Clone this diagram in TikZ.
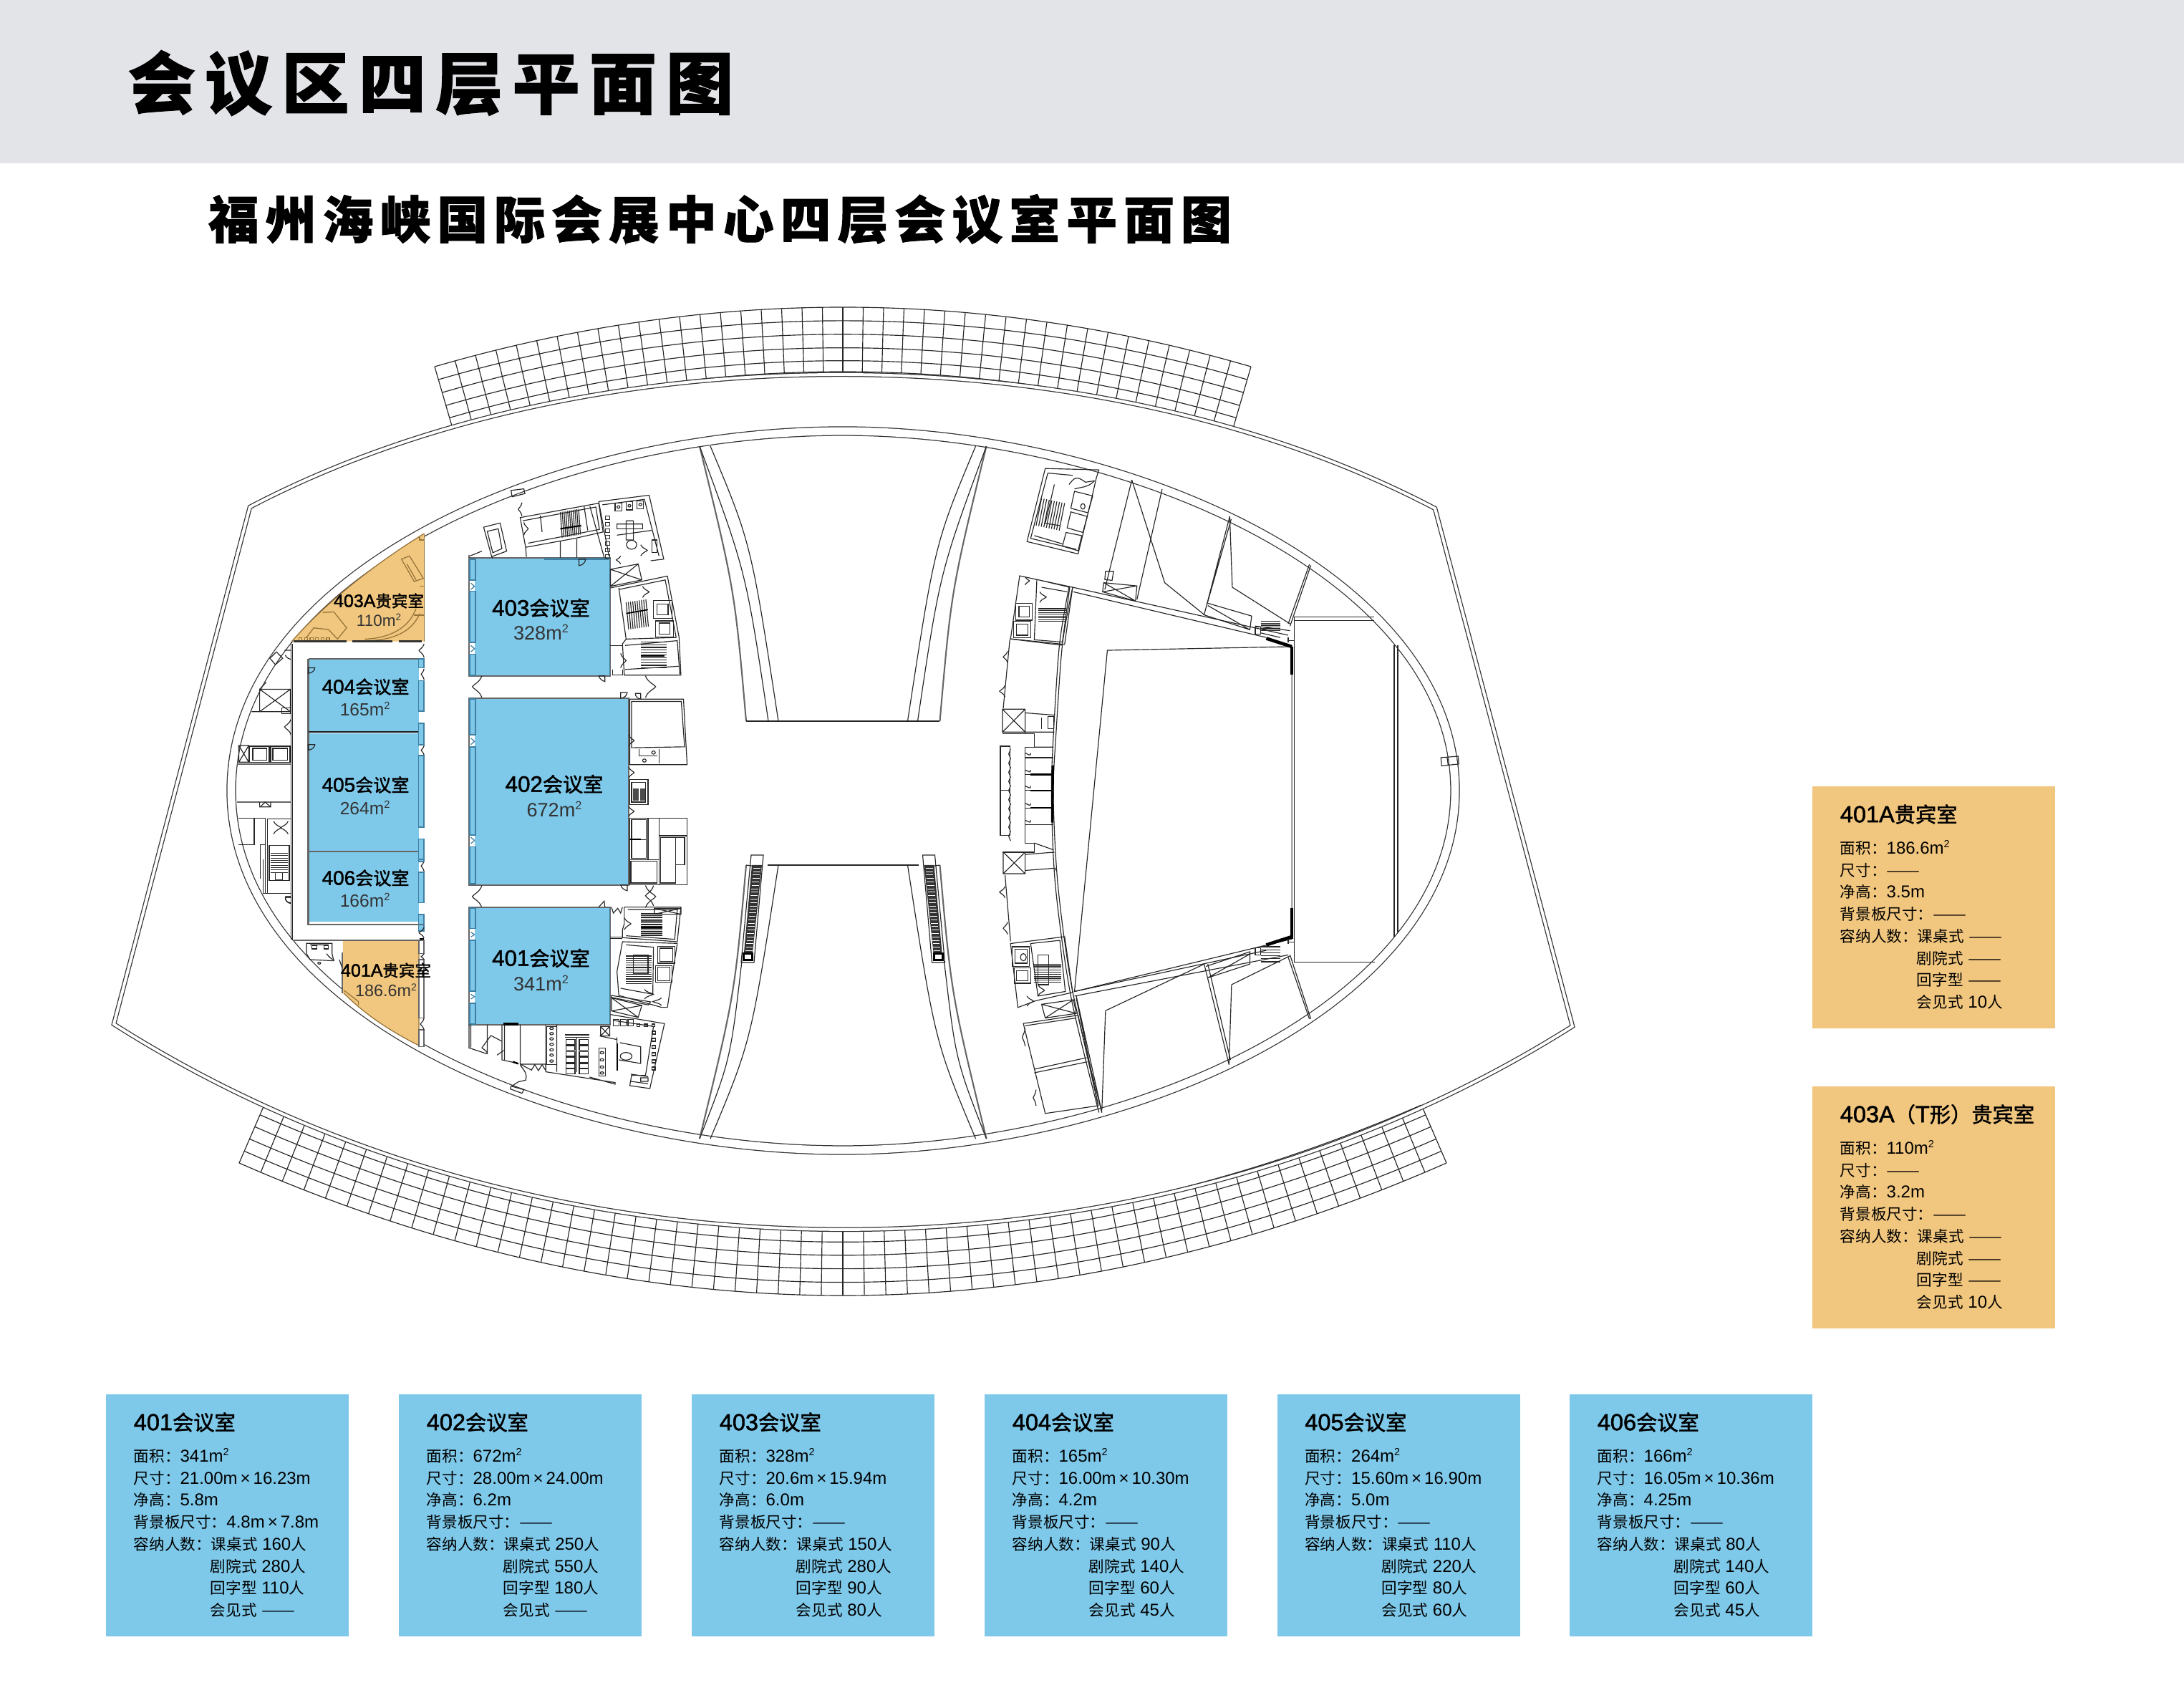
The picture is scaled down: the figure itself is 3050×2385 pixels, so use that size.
\documentclass[tikz,border=0pt]{standalone}
\usepackage{fontspec}
\setmainfont{Liberation Sans}
\newfontfamily\cj[Scale=0.9]{Noto Sans CJK SC}
\newfontfamily\cjm[Scale=0.9,FakeBold=1.6]{Noto Sans CJK SC}
\newfontfamily\lnm[FakeBold=1.6]{Liberation Sans}
\newfontfamily\cjt[LetterSpace=14,FakeBold=1.2]{Noto Sans CJK SC}
\newfontfamily\cjs[LetterSpace=12.8,FakeBold=1.2]{Noto Sans CJK SC}
\definecolor{band}{HTML}{E3E4E8}
\definecolor{rblue}{HTML}{7EC8E9}
\definecolor{rorg}{HTML}{F1C67E}
\definecolor{pedge}{HTML}{3F7FA3}
\definecolor{obrown}{HTML}{96743A}
\newcommand{\Z}[1]{{\cj #1}}
\newcommand{\Y}[1]{{\cjm #1}}
\newcommand{\msq}{m\raisebox{.36em}{\scalebox{.6}{2}}}
\newcommand{\dash}{\scalebox{1.3}[1]{\cj ——}}
\newcommand{\ii}{\hspace*{25.7pt}}
\newcommand{\tm}{\,×\,}
\tikzset{
 ln/.style={draw=black!85,line width=.28pt},
 lg/.style={draw=black!60,line width=.5pt},
 hv/.style={draw=black,line width=1.1pt},
 pn/.style={draw=pedge,fill=rblue,line width=.4pt},
 ctitle/.style={anchor=west,inner sep=0pt,font=\lnm\fontsize{7.8pt}{9pt}\selectfont},
 cbody/.style={anchor=north west,inner sep=0pt,align=left,font=\fontsize{5.76pt}{7.37pt}\selectfont},
 rname/.style={inner sep=0pt,font=\lnm\fontsize{7.5pt}{9pt}\selectfont},
 rarea/.style={inner sep=0pt,text=black!80,font=\fontsize{6.5pt}{8pt}\selectfont},
 rnames/.style={inner sep=0pt,font=\lnm\fontsize{6.7pt}{8pt}\selectfont},
 rareas/.style={inner sep=0pt,text=black!80,font=\fontsize{5.9pt}{8pt}\selectfont},
}
\newcommand{\xb}[4]{\draw[ln] (#1,#2) rectangle (#3,#4) (#1,#2) -- (#3,#4) (#1,#4) -- (#3,#2);}
\newcommand{\steps}[5]{\foreach \k in {0,...,#5} \draw[ln] (#1,{#3+(#4-#3)*\k/#5}) -- (#2,{#3+(#4-#3)*\k/#5});}
\newcommand{\dv}[4]{\draw[ln] (#1,#2) .. controls ({#1+0.2*#4},{#2*.7+#3*.3}) and ({#1+.9*#4},{#2*.6+#3*.4}) .. ({#1+#4},{(#2+#3)/2}) .. controls ({#1+.9*#4},{#2*.4+#3*.6}) and ({#1+.2*#4},{#2*.3+#3*.7}) .. (#1,#3);}
\newcommand{\qd}[4]{\draw[ln] (#1,#2) -- (#1,#4) .. controls ({#1*.5+#3*.5},{#4}) and (#3,{#2*.5+#4*.5}) .. (#3,#2) -- cycle;}
\newcommand{\card}[6]{%
 \fill[#4] (#2,#3) rectangle ++(339,338);
 \node[ctitle] (#1t) at ({#2+38},{#3+39}) {#5};
 \node[cbody] (#1b) at ({#2+38},{#3+75}) {#6};
}
\newcommand{\ZI}{\begin{scope}[shift={(280,600)},xscale=.5102,yscale=.4464]}
\newcommand{\ZII}{\begin{scope}[shift={(280,1200)},xscale=.5102,yscale=.3333]}
\newcommand{\ZIII}{\begin{scope}[shift={(1350,600)},xscale=.5102,yscale=.6378]}
\begin{document}
\begin{tikzpicture}[x=.24pt,y=-.24pt]
\useasboundingbox (0,0) rectangle (3050,2385);
\fill[band] (0,0) rectangle (3050,228);
\node[anchor=west,inner sep=0pt] (maintitle) at (178,116) {\cjt\bfseries\fontsize{22.6pt}{24pt}\selectfont 会议区四层平面图};
\node[anchor=west,inner sep=0pt] (subtitle) at (290,306) {\cjs\bfseries\fontsize{17pt}{19pt}\selectfont 福州海峡国际会展中心四层会议室平面图};

% top grid
\foreach \f in {0,.21,.42,.63,.83,1}
 \draw[ln] plot[domain=-1:1,samples=41,smooth] ({1177+\x*(570-25*\f)},{429+90*\f+(83-4*\f)*\x*\x});
\foreach \i in {-20,...,20}{
 \pgfmathsetmacro\u{\i/20}
 \draw[ln] ({1177+\u*570},{429+83*\u*\u}) -- ({1177+\u*545},{519+79*\u*\u});
}
% bottom grid
\foreach \f in {0,.17,.375,.585,.795,1}
 \draw[ln] plot[domain=-1:1,samples=57,smooth] ({1177+\x*(808+35*\f)},{1719+90*\f-(176+9*\f)*\x*\x});
\foreach \i in {-28,...,28}{
 \pgfmathsetmacro\u{\i/28}
 \draw[ln] ({1177+\u*808},{1719-176*\u*\u}) -- ({1177+\u*843},{1809-185*\u*\u});
}
% roof outline
\draw[black!80,line width=.3pt,double=white,double distance=.95pt]
 (159,1430) -- (349,708) .. controls (820,461) and (1530,461) .. (2004,710) -- (2196,1433)
 .. controls (1595,1812) and (760,1812) .. cycle;
% egg
\draw[black!80,line width=.3pt,double=white,double distance=2.6pt]
 (323,1104) .. controls (323,797) and (778,602) .. (1177,602) .. controls (1562,602) and (2032,798) .. (2032,1104)
 .. controls (2032,1410) and (1562,1606) .. (1177,1606) .. controls (778,1606) and (323,1410) .. cycle;

% atrium
\begin{scope}
\foreach \trf in {{xscale=1},{shift={(2354.5,0)},xscale=-1}}{
\begin{scope}[shift={(0,0)}]
\expandafter\tikzset\expandafter{\trf}
\draw[lg] (977,623) .. controls (1026,824) .. (1042,1007);
\draw[ln] (977,623) .. controls (1042,799) .. (1073,1007);
\draw[ln] (992,623) .. controls (1049,759) .. (1087,1007);
\draw[lg] (977,1590) .. controls (1026,1389) .. (1042,1208);
\draw[ln] (977,1590) .. controls (1020,1480) .. (1036,1342);
\draw[ln] (992,1590) .. controls (1049,1454) .. (1087,1208);
% escalators
\draw[ln] (1049,1194) -- (1066,1194) -- (1053,1344) -- (1035,1344) -- cycle;
\draw[ln] (1042,1208) -- (1056,1210);
\fill[black!80] (1050,1208) -- (1064,1208) -- (1051,1330) -- (1039,1330) -- cycle;
\foreach \k in {0,...,24} \draw[white,line width=.12pt] ({1052-\k*.45},{1212+\k*4.8}) -- ({1062-\k*.47},{1212+\k*4.8});
\fill[black] (1037,1330) rectangle (1052,1342);
\fill[white] (1040,1333) rectangle (1049,1339);
\end{scope}
}
\end{scope}
\draw[ln] (1042,1007) -- (1312,1007);
\draw[ln] (1072,1208) -- (1283,1208);

%%%%% ZOOM 1 area
\ZI
\fill[rorg] (612,325) -- (612,662) -- (250,662) .. controls (340,545) and (470,425) .. (612,325) -- cycle;
\draw[obrown,line width=.3pt] (612,325) -- (612,662);
\draw[obrown,line width=.3pt] (250,662) .. controls (340,545) and (470,425) .. (612,325);
\draw[obrown,line width=.3pt] (590,560) .. controls (570,620) and (520,652) .. (450,655) (600,575) .. controls (580,630) and (530,660) .. (450,660);
\draw[obrown,line width=.3pt] (550,405) -- (572,395) -- (610,465) -- (585,475) -- cycle (565,420) -- (590,470);
\draw[obrown,line width=.3pt] (335,572) -- (365,570) -- (400,620) -- (375,655) -- (350,625) -- (310,620) -- (290,650);
\draw[obrown,line width=.3pt] (585,580) -- (612,580) (600,335) -- (600,345) -- (612,345) (600,490) -- (612,490);
\foreach \xx in {270,285,300,315,330,345} \draw[obrown,line width=.3pt] (\xx,650) rectangle ++(8,10);
\draw[black!80,line width=.5pt] (255,662) -- (400,662) (415,662) -- (525,662) (543,662) -- (605,662);
% left service
\draw[ln] (248,662) -- (248,1568) (252,670) -- (252,1568);
\draw[ln] (230,690) -- (248,690) (232,705) .. controls (235,715) and (245,718) .. (248,718);
\draw[ln] (190,715) -- (208,695) -- (225,715) -- (205,735) -- cycle;
\xb{162}{812}{246}{882}
\draw[ln] (140,882) -- (162,882) (162,812) -- (180,790);
\draw[ln] (222,870) -- (246,870) -- (246,888) -- (222,888) -- cycle;
\dv{248}{905}{955}{-18}
\draw[ln] (105,988) -- (132,988) -- (132,1040) -- (105,1040) -- cycle (105,988) -- (132,1040) (105,1040) -- (132,988);
\draw[ln] (135,990) rectangle (188,1040) (143,997) rectangle (182,1033) (192,990) rectangle (245,1040) (198,997) rectangle (238,1033);
\draw[black!60,line width=.5pt] (100,1046) -- (248,1046) (100,1165) -- (248,1165);
\draw[ln] (162,1165) -- (162,1180) -- (192,1180) -- (192,1165) (165,1178) -- (177,1165) -- (190,1178);
\draw[ln] (103,1215) -- (178,1215) -- (178,1450) (147,1215) -- (147,1298) -- (103,1298);
\draw[ln] (163,1298) -- (163,1405) (178,1298) -- (163,1298);
\draw[ln] (183,1218) rectangle (248,1450) (188,1410) -- (243,1410) -- (243,1300) -- (188,1300) -- cycle;
\dv{200}{1225}{1265}{20}\dv{240}{1225}{1265}{-20}
\steps{192}{240}{1325}{1385}{8}
\draw[ln] (205,1385) rectangle (225,1408);
\draw[ln] (170,1450) -- (248,1450);
\draw[ln] (232,1460) -- (248,1460) (232,1462) .. controls (232,1475) and (240,1482) .. (248,1482);
% rooms 404-406
\fill[rblue] (295,717) rectangle (598,943);
\fill[rblue] (295,950) rectangle (598,1318);
\fill[rblue] (295,1322) rectangle (598,1540);
\draw[lg] (295,717) -- (612,717) (295,717) -- (295,1547) -- (598,1547);
\draw[black!90,line width=.55pt] (295,945) -- (612,945);
\draw[lg] (295,1320) -- (612,1320);
\qd{295}{745}{313}{762}
\qd{295}{985}{313}{1002}
\foreach \a/\b in {717/745,785/880,918/985,1020/1243,1280/1345,1385/1480,1520/1568}
 \draw[pn] (597,\a) rectangle (612,\b);
\dv{612}{670}{712}{-14}
\dv{612}{748}{782}{-8}
\dv{612}{988}{1018}{-8}
\dv{612}{1348}{1382}{-8}
% rooms 403, 402
\fill[rblue] (750,403) rectangle (1122,770);
\fill[rblue] (750,842) rectangle (1172,1422);
\draw[lg] (735,400) rectangle (1122,770);
\draw[lg] (735,840) rectangle (1172,1424);
\draw[pedge,line width=.7pt] (940,404) -- (1118,404);
\draw[pedge,line width=.4pt] (1120,403) -- (1120,770);
\qd{1036}{405}{1054}{425}
\foreach \a/\b in {405/470,505/665,702/768,842/955,992/1268,1305/1420}
 \draw[pn] (737,\a) rectangle (752,\b);
\foreach \yy in {490,685,975,1285} \draw[pedge,line width=.3pt] (740,{\yy-10}) -- (750,\yy) -- (740,{\yy+10});
\dv{770}{770}{838}{-26}
\dv{1218}{770}{838}{28}
\dv{770}{1426}{1495}{-26}
\dv{1218}{1426}{1495}{28}
\draw[ln] (1090,770) -- (1107,770) -- (1107,788) .. controls (1098,785) and (1092,778) .. (1090,770);
\qd{1150}{822}{1168}{840}
\draw[ln] (1150,1424) -- (1168,1424) -- (1168,1442) .. controls (1158,1440) and (1152,1432) .. (1150,1424);
% 403 north-east: stair + toilets
\draw[ln] (875,275) -- (1090,230) -- (1102,320) -- (1025,340) -- (890,368) -- cycle;
\draw[ln] (882,285) -- (1082,242) -- (1092,312) -- (897,355);
\draw[ln] (930,268) -- (935,320) (1050,240) -- (1060,315);
\foreach \k in {0,...,10} \draw[ln] ({985+\k*5},{258-\k}) -- ({990+\k*5},{338-\k});
\draw[black,line width=.5pt] (985,310) -- (1042,300);
\draw[ln] (850,190) -- (885,185) -- (888,200) -- (853,210) -- cycle;
\dv{880}{228}{270}{-10}
\dv{885}{290}{330}{12}
\draw[ln] (890,368) -- (892,398) (985,350) -- (985,400) (1030,342) -- (1030,400);
\draw[ln] (775,305) -- (820,292) -- (838,380) -- (797,397) -- cycle (785,318) -- (815,310) -- (825,372) -- (800,385) -- cycle;
\draw[ln] (738,395) -- (770,380) (735,392) -- (735,400) (797,397) -- (800,402);
\draw[ln] (1090,225) -- (1228,205) -- (1268,405) -- (1232,410) (1100,235) -- (1215,218) -- (1255,395) (1090,225) -- (1118,395);
\draw[ln] (1066,240) -- (1105,400);
\foreach \xx/\yy in {1135/230,1165/226,1195/222} {\draw[ln] (\xx,\yy) rectangle ++(18,25); \draw[ln] ({\xx+9},{\yy+12}) circle (4);}
\foreach \yy in {270,290,310,330,350,370,390} \draw[ln] (1108,\yy) rectangle ++(12,12);
\draw[ln] (1140,295) rectangle (1210,310) (1140,330) -- (1235,315) (1165,285) rectangle (1185,345);
\draw[ln] (1180,360) circle (14);
\draw[ln] (1235,345) rectangle (1250,385);
\dv{1150}{395}{420}{-12}
\dv{1205}{360}{395}{18}
% 403 east block
\draw[ln] (1122,437) -- (1198,420) -- (1208,470) -- (1122,490) -- cycle (1122,437) -- (1208,470) (1122,490) -- (1198,420);
\draw[ln] (1122,495) -- (1278,458) -- (1310,650) -- (1315,768) -- (1160,768) -- (1155,670) -- (1165,655) -- (1145,495);
\draw[ln] (1145,500) -- (1272,470) -- (1302,650) -- (1165,655);
\foreach \k in {0,...,9} \draw[ln] ({1165+\k*6},{540-\k}) -- ({1172+\k*6},{625-\k});
\draw[black,line width=.4pt] (1165,575) -- (1225,563);
\draw[ln] (1240,535) rectangle (1290,590) (1250,545) rectangle (1280,580) (1245,598) rectangle (1295,648) (1255,605) rectangle (1285,640);
\draw[ln] (1122,675) -- (1155,675);
\draw[ln] (1162,675) -- (1305,660) -- (1312,765) (1162,750) -- (1310,740);
\steps{1205}{1275}{665}{745}{10}
\draw[black,line width=.6pt] (1205,708) -- (1270,708);
\dv{1150}{700}{745}{15}
\dv{1210}{490}{525}{18}
\draw[ln] (1128,750) -- (1128,768) -- (1155,768) -- (1155,750);
% 402 east
\draw[ln] (1175,843) -- (1322,843) -- (1332,1048) -- (1175,1048) -- cycle (1180,850) -- (1316,850) -- (1325,992) -- (1180,995) -- cycle;
\draw[ln] (1190,825) -- (1205,825) -- (1205,843) .. controls (1198,842) and (1190,835) .. (1190,825);
\dv{1172}{955}{990}{15}
\dv{1172}{1055}{1090}{15}
\dv{1172}{1178}{1210}{15}
\draw[ln] (1255,1000) -- (1255,1045) (1200,1000) -- (1200,1020) -- (1250,1020);
\draw[ln] (1215,1035) circle (5) (1240,1010) circle (5);
\draw[ln] (1175,1095) -- (1225,1095) -- (1225,1172) -- (1175,1172) -- cycle (1180,1103) rectangle (1218,1165);
\fill[black!70] (1183,1122) rectangle (1200,1160);
\fill[black!70] (1203,1122) rectangle (1217,1160);
\draw[ln] (1175,1215) rectangle (1332,1424) (1225,1215) -- (1225,1345) (1175,1345) -- (1255,1345) (1255,1215) -- (1255,1424) (1255,1270) -- (1332,1270);
\draw[ln] (1180,1220) rectangle (1220,1340) (1180,1282) -- (1222,1282) (1260,1275) rectangle (1300,1418) (1300,1275) rectangle (1325,1360);
\draw[ln] (1178,1350) rectangle (1250,1418);
\draw[black,line width=.5pt] (1175,1282) -- (1205,1282);
\end{scope}

%%%%% ZOOM 2 area
\ZII
\fill[rblue] (750,205) rectangle (1122,692);
\draw[lg] (735,200) rectangle (1122,692);
\draw[pedge,line width=.4pt] (1120,205) -- (1120,690);
\foreach \a/\b in {205/290,340/553,603/690}
 \draw[pn] (737,\a) rectangle (752,\b);
\foreach \yy in {315,575} \draw[pedge,line width=.3pt] (740,{\yy-10}) -- (750,\yy) -- (740,{\yy+10});
\draw[ln] (1090,200) -- (1105,175) -- (1107,200);
\draw[ln] (1125,200) -- (1130,225) -- (1142,205) -- (1150,225) -- (1155,200);
\draw[black,line width=1pt] (830,690) -- (870,690);
% 401A
\fill[rorg] (390,340) -- (598,340) -- (598,780) .. controls (520,720) and (450,650) .. (390,560) -- cycle;
\draw[obrown,line width=.3pt] (390,340) -- (598,340) -- (598,780) .. controls (520,720) and (450,650) .. (392,560);
\draw[obrown,line width=.3pt] (392,548) -- (432,595) -- (432,610);
\draw[lg] (388,390) -- (388,560);
\draw[lg] (253,340) -- (605,340);
\foreach \a/\b in {340/395,420/665,715/785}
 \draw[draw=black!60,fill=white,line width=.4pt] (598,\a) rectangle (612,\b);
\dv{612}{285}{330}{-14}
\dv{612}{395}{420}{-8}
\dv{612}{665}{715}{-10}
\draw[black,line width=.7pt] (600,333) -- (612,333);
\draw[ln] (290,352) -- (360,352) -- (360,395) -- (365,425) -- (300,420) -- (290,395) -- cycle (300,358) -- (350,358);
\draw[ln] (305,360) rectangle (318,375) (338,360) rectangle (350,375);
\draw[ln] (325,435) circle (4) (345,395) .. controls (352,410) and (360,420) .. (365,420);
\draw[ln] (380,420) -- (388,455);
\draw[ln] (232,160) -- (248,160) (232,162) .. controls (232,175) and (240,182) .. (248,182);
\draw[ln] (248,0) -- (248,335) (252,0) -- (252,340);
\draw[ln] (172,0) -- (172,142) -- (248,142);
\draw[lg] (295,0) -- (295,272) -- (612,272);
\fill[rblue] (298,0) rectangle (596,258);
\foreach \a/\b in {0/10,55/182,232/272} \draw[pn] (597,\a) rectangle (612,\b);
% stairs north
\draw[ln] (1160,200) -- (1315,200) -- (1305,345) -- (1155,328) -- (1155,295) -- (1160,270) -- cycle;
\draw[ln] (1170,210) -- (1305,210) -- (1298,335) -- (1165,320);
\steps{1205}{1265}{228}{318}{12}
\draw[black,line width=.7pt] (1205,285) -- (1265,285);
\xb{1242}{205}{1315}{230}
\dv{1160}{245}{295}{18}
\dv{1240}{110}{195}{-22}
\draw[ln] (1122,325) -- (1155,325) (1122,332) -- (1155,332);
% stairs middle
\draw[ln] (1155,345) -- (1305,352) -- (1278,620) -- (1262,620) -- (1145,570) -- (1140,470) -- cycle;
\draw[ln] (1165,358) -- (1240,368) -- (1238,565) -- (1150,540);
\steps{1165}{1235}{405}{520}{12}
\draw[ln] (1185,400) rectangle (1225,480);
\draw[ln] (1252,365) rectangle (1298,435) (1258,372) rectangle (1292,428) (1246,445) rectangle (1290,515) (1252,452) rectangle (1284,508);
\dv{1215}{545}{585}{25}
\dv{1262}{580}{612}{-24}
% cross box
\draw[ln] (1125,570) -- (1232,597) -- (1226,610) -- (1125,578) -- cycle;
\draw[ln] (1125,580) -- (1208,612) -- (1198,662) -- (1125,635) -- cycle (1125,580) -- (1198,662) (1125,635) -- (1208,612);
% toilets south
\draw[ln] (1122,650) -- (1270,688) -- (1230,960) -- (1175,948) -- (1180,905) -- (1218,905) -- (1240,700) -- (1130,675);
\foreach \xx in {1130,1150,1170} \draw[ln] (\xx,670) rectangle ++(15,28);
\foreach \xx in {1195,1215,1235} \draw[ln] (\xx,690) rectangle ++(8,10);
\foreach \yy in {720,750,780,810,840,870} \draw[ln] (1235,\yy) rectangle ++(10,12);
\draw[ln] (1148,768) -- (1205,785) -- (1205,855) -- (1145,840) (1140,745) -- (1140,885);
\draw[ln] (1165,825) circle (16);
\draw[ln] (1095,700) -- (1120,700) -- (1120,740) -- (1095,740) -- cycle (1095,700) -- (1120,740) (1095,740) -- (1120,700);
\draw[ln] (1093,740) -- (1140,755);
\draw[black,line width=.5pt] (1140,770) -- (1140,885);
\draw[ln] (1178,900) -- (1225,910) (1178,930) -- (1225,940) (1205,915) rectangle (1225,930);
% south rooms of 401
\draw[ln] (735,692) -- (735,790) -- (785,815) (740,692) -- (740,788) (785,692) -- (785,815);
\draw[ln] (770,790) -- (795,738) -- (825,762) (770,790) .. controls (780,800) and (785,805) .. (785,815);
\draw[ln] (825,692) -- (825,840) -- (870,855) (832,692) -- (832,840);
\draw[ln] (875,692) -- (875,858) -- (905,882) (875,858) -- (945,858) -- (945,885) (812,820) -- (830,800);
\draw[black,line width=.6pt] (855,848) -- (870,856);
\draw[ln] (945,692) -- (945,890) -- (1135,935) -- (1135,942) -- (1065,912) (975,692) -- (975,890);
\draw[ln] (948,700) rectangle (975,860);
\foreach \yy in {708,730,752,775,798,820,845} \draw[ln] (961,\yy) circle (5);
\draw[ln] (997,735) -- (1065,735) (997,745) -- (1065,745) (1030,745) -- (1030,890);
\foreach \yy in {755,780,805,830,855,878} {\draw[ln] (1000,\yy) rectangle ++(25,20) (1037,\yy) rectangle ++(25,20);}
\draw[ln] (1090,790) rectangle (1108,908);
\foreach \yy in {810,840,870,895} \draw[ln] (1099,\yy) circle (5);
\draw[ln] (905,885) -- (915,860) -- (925,885) -- (935,860) -- (945,885);
\draw[ln] (875,862) .. controls (890,890) and (895,905) .. (890,925) -- (870,932) -- (852,950);
\draw[ln] (850,950) -- (885,965) -- (880,980) -- (848,962) -- cycle;
\end{scope}

%%%%% ZOOM 3 area
\ZIII
% stair NE
\draw[ln] (215,85) -- (362,88) -- (355,105) -- (345,140) -- (305,272) -- (165,245) -- cycle;
\draw[ln] (222,95) -- (290,100) (222,95) -- (175,238) -- (300,262);
\foreach \k in {0,...,9} \draw[ln] ({205+\k*7},{150+\k*1.2}) -- ({190+\k*7},{210+\k*1.2});
\draw[ln] (240,120) -- (215,205) -- (255,210);
\draw[ln] (295,135) -- (345,145) -- (332,182) -- (285,172) -- cycle (285,180) -- (330,190) -- (318,225) -- (275,215) -- cycle (272,225) -- (315,232) -- (305,265) -- (262,255) -- cycle;
\draw[ln] (185,232) -- (262,250);
\draw[ln] (318,168) circle (6);
\draw[ln] (280,120) .. controls (295,105) and (300,100) .. (325,115) -- (350,112);
\draw[ln] (295,130) .. controls (312,125) and (330,128) .. (350,112);
% wall lines NE area
\draw[ln] (452,110) -- (378,350) (535,130) -- (466,372);
\draw[ln] (452,110) -- (542,335) -- (650,405);
\draw[ln] (720,190) -- (650,405) (724,196) -- (658,382);
\draw[ln] (720,190) -- (727,345) -- (885,425);
\draw[ln] (942,297) -- (885,430) (938,295) -- (880,425);
\draw[ln] (380,310) -- (402,310) -- (398,330) -- (378,328) -- cycle;
\draw[ln] (375,335) -- (466,342) -- (462,375) -- (372,355) -- cycle (375,335) -- (462,375) (372,355) -- (466,342);
\draw[ln] (660,380) -- (780,408) -- (775,438) -- (648,405) (660,385) -- (775,438);
% wall to stage
\draw[ln] (290,345) -- (880,450) (292,355) -- (820,455);
\draw[ln] (790,430) -- (885,440);
\steps{805}{858}{420}{440}{5}
\draw[ln] (805,445) -- (858,455);
\draw[ln] (790,432) rectangle (805,448);
% stage
\draw[ln] (385,483) -- (890,475) -- (890,1115) -- (295,1230) -- cycle;
\draw[ln] (897,465) -- (897,1120);
\draw[hv] (890,475) -- (890,537) (890,1047) -- (890,1115);
\draw[hv] (820,457) -- (890,475) (820,1128) -- (890,1110);
\draw[ln] (880,455) -- (880,465) (880,1125) -- (880,1115) (880,462) -- (897,462) (880,1122) -- (897,1122);
\draw[ln] (897,410) -- (1115,410) (897,418) -- (1115,418) (897,410) -- (897,465);
\draw[ln] (1170,472) -- (1170,1110) (1180,472) -- (1180,1100);
\draw[ln] (897,1120) -- (897,1166) -- (1117,1166);
% curved walls
\draw[ln] plot[smooth] coordinates {(290,345)(262,470)(245,660)(237,800)(250,1000)(290,1230)(370,1495)};
\draw[ln] plot[smooth] coordinates {(280,345)(254,470)(238,660)(232,800)(243,1000)(285,1240)(362,1495)};
\draw[hv,line width=.8pt] (236,735) -- (234,860);
% south
\draw[ln] (295,1240) -- (880,1150) (295,1230) -- (820,1140);
\draw[ln] (300,1240) -- (370,1495) (300,1245) -- (360,1480);
\draw[ln] (380,1272) -- (650,1170) (380,1272) -- (370,1490);
\draw[ln] (650,1170) -- (718,1390) (660,1170) -- (722,1380);
\draw[ln] (725,1215) -- (718,1390) (725,1215) -- (885,1152);
\draw[ln] (885,1150) -- (942,1290) (880,1155) -- (938,1290);
\draw[ln] (655,1175) -- (775,1143) -- (775,1170) -- (660,1200) (660,1200) -- (775,1148);
\steps{805}{858}{1132}{1165}{5}
\draw[ln] (790,1135) rectangle (805,1150);
% south rooms
\draw[ln] (205,1258) -- (292,1248) -- (300,1278) -- (215,1288) -- cycle (205,1258) -- (300,1278) (215,1288) -- (292,1248);
\draw[ln] (155,1300) -- (305,1282) -- (360,1480) -- (215,1497) -- cycle (160,1305) -- (300,1288) (185,1400) -- (328,1375) (185,1408) -- (330,1384);
\dv{160}{1310}{1350}{-8}
\dv{190}{1445}{1480}{-8}
% upper block
\draw[ln] (145,320) -- (290,345) -- (268,470) -- (120,458) -- cycle (192,328) -- (282,345) -- (262,465) -- (185,460) -- cycle;
\draw[ln] (135,380) rectangle (180,417) (143,386) rectangle (172,410) (128,420) rectangle (175,456) (136,426) rectangle (167,450);
\steps{195}{272}{392}{420}{7}
\draw[ln] (205,345) -- (275,355);
\dv{160}{322}{340}{12}
\dv{200}{355}{378}{18}
% side rooms
\draw[ln] (118,460) -- (100,610) (262,472) -- (118,458);
\dv{112}{485}{510}{-12}
\dv{105}{560}{585}{-15}
\xb{98}{612}{160}{662}
\draw[ln] (160,620) -- (240,625) (160,620) -- (160,665) (160,662) -- (240,662);
\draw[ln] (222,628) rectangle (238,655) (205,655) -- (205,630);
\draw[ln] (98,665) -- (185,665) -- (185,695) -- (160,695) -- (160,905) -- (185,905) -- (185,925) -- (98,925);
\draw[ln] (185,695) -- (238,695) (185,905) -- (238,920);
\draw[ln] (92,693) rectangle (118,888) (92,790) -- (118,790);
\foreach \a in {700,720,740,760,780,800,820,840,860,880} \draw[ln] (120,\a) -- (115,{\a+10}) -- (120,{\a+20});
\foreach \a in {718,755,790,828,865} \draw[ln] (160,\a) -- (238,\a);
\foreach \a in {708,745,780,818,855} \draw[ln] (160,\a) .. controls (170,{\a+3}) and (175,{\a+8}) .. (175,\a);
\draw[black,line width=.5pt] (175,755) -- (238,755) (175,790) -- (238,790) (175,828) -- (238,828);
\xb{100}{925}{160}{972}
\draw[ln] (160,930) -- (240,925) (160,965) -- (242,960);
\draw[ln] (105,975) -- (120,1120) (242,960) -- (245,965);
\dv{105}{1000}{1025}{-15}
\dv{112}{1078}{1105}{-12}
% lower block
\draw[ln] (120,1125) -- (268,1110) -- (290,1232) -- (190,1250) -- (140,1265) -- cycle (175,1125) -- (255,1118) -- (270,1230) -- (195,1240) -- cycle;
\draw[ln] (125,1132) rectangle (172,1175) (132,1138) rectangle (165,1168) (130,1178) rectangle (175,1212) (136,1184) rectangle (168,1206);
\draw[ln] (155,1155) circle (8);
\steps{185}{258}{1170}{1210}{9}
\draw[ln] (195,1150) rectangle (225,1215);
\dv{165}{1240}{1262}{18}
\dv{195}{1215}{1240}{18}
% little thing on egg
\draw[ln] (1298,718) -- (1345,715) -- (1347,732) -- (1300,736) -- cycle (1315,718) -- (1318,735);
\end{scope}
% room labels
\node[rname] (n403) at (755.5,849) {403\Y{会议室}};
\node[rarea] (a403) at (755.5,883) {328\msq};
\node[rname] (n402) at (774,1095) {402\Y{会议室}};
\node[rarea] (a402) at (774,1130) {672\msq};
\node[rname] (n401) at (755.5,1338) {401\Y{会议室}};
\node[rarea] (a401) at (755.5,1373) {341\msq};
\node[rnames] (n404) at (510.6,959) {404\Y{会议室}};
\node[rareas] (a404) at (509.6,990) {165\msq};
\node[rnames] (n405) at (510.6,1096) {405\Y{会议室}};
\node[rareas] (a405) at (509.6,1128) {264\msq};
\node[rnames] (n406) at (510.6,1226) {406\Y{会议室}};
\node[rareas] (a406) at (509.6,1257) {166\msq};
\node[inner sep=0pt,font=\lnm\fontsize{6pt}{8pt}\selectfont] (n403A) at (529,839) {403A\Y{贵宾室}};
\node[inner sep=0pt,text=black!80,font=\fontsize{5.4pt}{8pt}\selectfont] (a403A) at (529,866) {110\msq};
\node[inner sep=0pt,font=\lnm\fontsize{6pt}{8pt}\selectfont] (n401A) at (539,1355) {401A\Y{贵宾室}};
\node[inner sep=0pt,text=black!80,font=\fontsize{5.6pt}{8pt}\selectfont] (a401A) at (539,1383) {186.6\msq};

% cards
\card{c401}{148}{1947}{rblue}{401\Y{会议室}}{\Z{面积：}341\msq\\\Z{尺寸：}21.00m\tm 16.23m\\\Z{净高：}5.8m\\\Z{背景板尺寸：}4.8m\tm 7.8m\\\Z{容纳人数：课桌式} 160\Z{人}\\\ii\Z{剧院式} 280\Z{人}\\\ii\Z{回字型} 110\Z{人}\\\ii\Z{会见式} \dash}
\card{c402}{557}{1947}{rblue}{402\Y{会议室}}{\Z{面积：}672\msq\\\Z{尺寸：}28.00m\tm 24.00m\\\Z{净高：}6.2m\\\Z{背景板尺寸：}\dash\\\Z{容纳人数：课桌式} 250\Z{人}\\\ii\Z{剧院式} 550\Z{人}\\\ii\Z{回字型} 180\Z{人}\\\ii\Z{会见式} \dash}
\card{c403}{966}{1947}{rblue}{403\Y{会议室}}{\Z{面积：}328\msq\\\Z{尺寸：}20.6m\tm 15.94m\\\Z{净高：}6.0m\\\Z{背景板尺寸：}\dash\\\Z{容纳人数：课桌式} 150\Z{人}\\\ii\Z{剧院式} 280\Z{人}\\\ii\Z{回字型} 90\Z{人}\\\ii\Z{会见式} 80\Z{人}}
\card{c404}{1375}{1947}{rblue}{404\Y{会议室}}{\Z{面积：}165\msq\\\Z{尺寸：}16.00m\tm 10.30m\\\Z{净高：}4.2m\\\Z{背景板尺寸：}\dash\\\Z{容纳人数：课桌式} 90\Z{人}\\\ii\Z{剧院式} 140\Z{人}\\\ii\Z{回字型} 60\Z{人}\\\ii\Z{会见式} 45\Z{人}}
\card{c405}{1783.5}{1947}{rblue}{405\Y{会议室}}{\Z{面积：}264\msq\\\Z{尺寸：}15.60m\tm 16.90m\\\Z{净高：}5.0m\\\Z{背景板尺寸：}\dash\\\Z{容纳人数：课桌式} 110\Z{人}\\\ii\Z{剧院式} 220\Z{人}\\\ii\Z{回字型} 80\Z{人}\\\ii\Z{会见式} 60\Z{人}}
\card{c406}{2192}{1947}{rblue}{406\Y{会议室}}{\Z{面积：}166\msq\\\Z{尺寸：}16.05m\tm 10.36m\\\Z{净高：}4.25m\\\Z{背景板尺寸：}\dash\\\Z{容纳人数：课桌式} 80\Z{人}\\\ii\Z{剧院式} 140\Z{人}\\\ii\Z{回字型} 60\Z{人}\\\ii\Z{会见式} 45\Z{人}}
\card{c401A}{2531}{1098}{rorg}{401A\Y{贵宾室}}{\Z{面积：}186.6\msq\\\Z{尺寸：}\dash\\\Z{净高：}3.5m\\\Z{背景板尺寸：}\dash\\\Z{容纳人数：课桌式} \dash\\\ii\Z{剧院式} \dash\\\ii\Z{回字型} \dash\\\ii\Z{会见式} 10\Z{人}}
\card{c403A}{2531}{1517}{rorg}{403A\Y{（}T\Y{形）贵宾室}}{\Z{面积：}110\msq\\\Z{尺寸：}\dash\\\Z{净高：}3.2m\\\Z{背景板尺寸：}\dash\\\Z{容纳人数：课桌式} \dash\\\ii\Z{剧院式} \dash\\\ii\Z{回字型} \dash\\\ii\Z{会见式} 10\Z{人}}
\end{tikzpicture}
\end{document}
